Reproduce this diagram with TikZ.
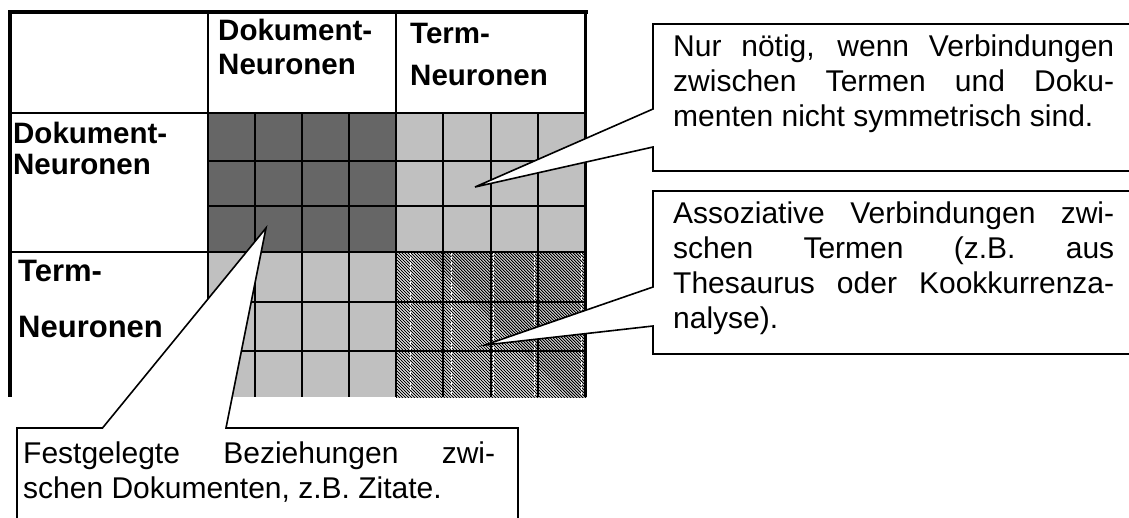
\documentclass[tikz,border=0pt]{standalone}
\usepackage{fontspec}
\setmainfont{Liberation Sans}
\usetikzlibrary{patterns}
\pgfdeclarepatternformonly{densehatch}{\pgfpoint{-1pt}{-1pt}}{\pgfpoint{4pt}{4pt}}{\pgfpoint{3pt}{3pt}}{%
  \pgfsetlinewidth{1.05pt}\pgfpathmoveto{\pgfpoint{0pt}{3pt}}\pgfpathlineto{\pgfpoint{3.1pt}{-0.1pt}}\pgfusepath{stroke}}
\definecolor{darkcell}{HTML}{666666}
\definecolor{lightcell}{HTML}{C0C0C0}
\tikzset{
  gridline/.style={line width=2pt},
  framepart/.style={line width=4pt},
  callout/.style={draw, line width=1.6pt, fill=white, line join=miter},
  lab/.style={font=\fontsize{29.5}{34}\selectfont\bfseries, anchor=base west, inner sep=0pt},
  biglab/.style={font=\fontsize{31}{36}\selectfont\bfseries, anchor=base west, inner sep=0pt},
  txt/.style={font=\fontsize{30}{35}\selectfont, anchor=base west, inner sep=0pt},
  hatchgap/.style={white, line width=0.8pt, dash pattern=on 3pt off 2pt}
}
\begin{document}
\begin{tikzpicture}[x=1pt,y=-1pt]
\useasboundingbox (0,0) rectangle (1129,517);
\fill[white] (0,0) rectangle (1129,517);
% cells
\fill[darkcell] (208,113) rectangle (396,252);
\fill[lightcell] (396,113) rectangle (586,252);
\fill[lightcell] (208,252) rectangle (396,397);
\fill[white] (396,252) rectangle (586,397);
\fill[pattern=densehatch] (396,252) rectangle (586,397);
\foreach \x in {410,451,493,534,581} \draw[hatchgap] (\x,252) -- (\x,397);
% grid
\foreach \x in {255,302,349,443.4,490.9,538.3} \draw[gridline] (\x,113) -- (\x,397);
\foreach \y in {160.5,205.5,302,351} \draw[gridline] (208,\y) -- (586,\y);
\draw[gridline] (208,12) -- (208,397);
\draw[gridline] (396,12) -- (396,397);
\draw[gridline] (10,113) -- (586,113);
\draw[gridline] (10,252) -- (586,252);
% frame
\draw[framepart] (8,12) -- (587.5,12);
\draw[framepart] (10,10) -- (10,397);
\draw[line width=3.5pt] (585.7,10) -- (585.7,397);
% labels
\node[lab] (h1a) at (218,40) {Dokument-};
\node[lab] (h1b) at (218,74) {Neuronen};
\node[lab] (h2a) at (410,43) {Term-};
\node[lab] (h2b) at (410,85) {Neuronen};
\node[lab] (r1a) at (13,143) {Dokument-};
\node[lab] (r1b) at (13,174) {Neuronen};
\node[biglab] (r2a) at (18,281) {Term-};
\node[biglab] (r2b) at (18,337) {Neuronen};
% callout 1
\draw[callout] (653,109) -- (475,187) -- (653,147) -- (653,171) -- (1135,171) -- (1135,24) -- (653,24) -- cycle;
\node[txt] (a1) at (673,56) {\makebox[441pt][s]{Nur nötig, wenn Verbindungen}};
\node[txt] (a2) at (673,91) {\makebox[441pt][s]{zwischen Termen und Doku-}};
\node[txt] (a3) at (673,126) {menten nicht symmetrisch sind.};
% callout 2
\draw[callout] (653,287) -- (485,345) -- (653,326) -- (653,354) -- (1135,354) -- (1135,191) -- (653,191) -- cycle;
\node[txt] (b1) at (673,223) {\makebox[441pt][s]{Assoziative Verbindungen zwi-}};
\node[txt] (b2) at (673,258) {\makebox[441pt][s]{schen Termen (z.B. aus}};
\node[txt] (b3) at (673,293) {\makebox[441pt][s]{Thesaurus oder Kookkurrenza-}};
\node[txt] (b4) at (673,328) {nalyse).};
% callout 3
\draw[callout] (102.5,428) -- (266,228) -- (226,428) -- (518,428) -- (518,525) -- (17,525) -- (17,428) -- cycle;
\node[txt] (c1) at (23,463) {\makebox[472pt][s]{Festgelegte Beziehungen zwi-}};
\node[txt] (c2) at (23,498) {schen Dokumenten, z.B. Zitate.};
\end{tikzpicture}
\end{document}
